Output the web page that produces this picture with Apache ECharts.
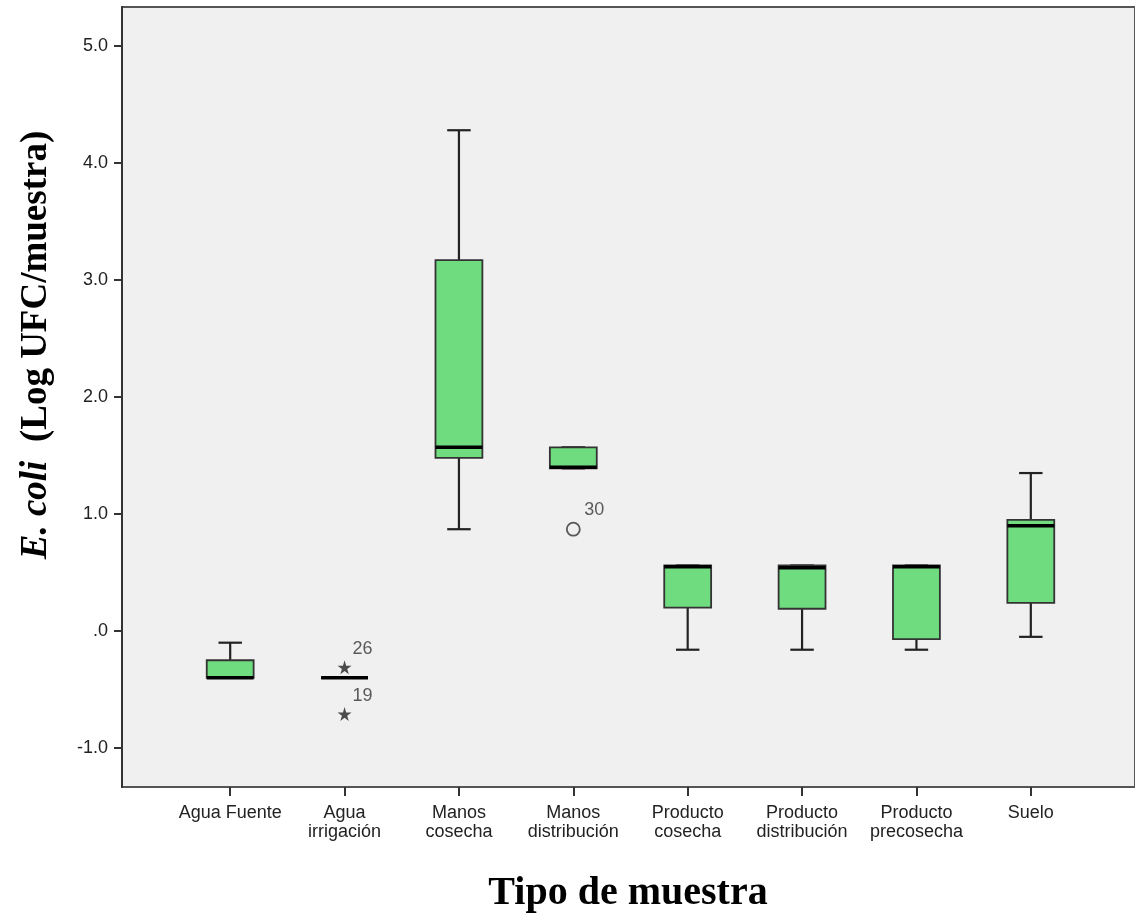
<!DOCTYPE html>
<html>
<head>
<meta charset="utf-8">
<script src="https://cdn.jsdelivr.net/npm/echarts@6/dist/echarts.min.js"></script>
<style>
html,body{margin:0;padding:0;background:#fff;}
#chart{width:1135px;height:923px;}
</style>
</head>
<body>
<div id="chart"></div>
<script>
var categories = ['Agua Fuente', 'Agua\nirrigación', 'Manos\ncosecha', 'Manos\ndistribución',
                  'Producto\ncosecha', 'Producto\ndistribución', 'Producto\nprecosecha', 'Suelo'];
var minVals = [-0.40, -0.40, 0.87, 1.39, -0.16, -0.16, -0.16, -0.05];
var q1Vals  = [-0.40, -0.40, 1.48, 1.39,  0.20,  0.19, -0.07,  0.24];
var medVals = [-0.40, -0.40, 1.57, 1.40,  0.55,  0.54,  0.55,  0.90];
var q3Vals  = [-0.25, -0.40, 3.17, 1.57,  0.56,  0.56,  0.56,  0.95];
var maxVals = [-0.10, -0.40, 4.28, 1.57,  0.56,  0.56,  0.56,  1.35];

var outlierCats   = [1, 1, 3];
var outlierVals   = [-0.31, -0.71, 0.87];
var outlierLabels = ['26', '19', '30'];
var outlierKinds  = ['star', 'star', 'circle'];

var yTicks = [-1, 0, 1, 2, 3, 4, 5];
var yMin = -4 / 3, yMax = 16 / 3;

var boxData = categories.map(function (c, i) {
  return [i, minVals[i], q1Vals[i], medVals[i], q3Vals[i], maxVals[i]];
});
var STAR = 'path://M50,0 L61,35 L98,35 L68,57 L79,91 L50,70 L21,91 L32,57 L2,35 L39,35 Z';
var outData = outlierCats.map(function (c, i) {
  var star = outlierKinds[i] === 'star';
  return {
    value: [c, outlierVals[i]],
    symbol: star ? STAR : 'circle',
    symbolSize: star ? 14 : 13,
    itemStyle: star ? {color: '#222', borderWidth: 0}
                    : {color: 'rgba(0,0,0,0)', borderColor: '#333', borderWidth: 1.8},
    label: {formatter: outlierLabels[i], offset: star ? [18, -18] : [21, -19]}
  };
});

var sans = '"Liberation Sans", Arial, sans-serif';
var serif = '"Liberation Serif", "Times New Roman", serif';

var chart = echarts.init(document.getElementById('chart'), null, {renderer: 'canvas'});
chart.setOption({
  animation: false,
  backgroundColor: '#ffffff',
  grid: [
    {left: 122, right: -5, top: 7, bottom: 136, show: true, backgroundColor: '#f0f0f0',
     borderColor: '#555', borderWidth: 2},
    {left: 173, right: 47, top: 7, bottom: 136}
  ],
  xAxis: [
    {gridIndex: 0, type: 'value', min: 0, max: 1, show: false},
    {gridIndex: 1, type: 'category', data: categories, boundaryGap: true,
     axisLine: {show: false, onZero: false},
     axisTick: {show: true, alignWithLabel: true, length: 9, lineStyle: {color: '#333', width: 2}},
     axisLabel: {interval: 0, margin: 17, color: '#222', fontFamily: sans, fontSize: 18, lineHeight: 19},
     splitLine: {show: false}}
  ],
  yAxis: [
    {gridIndex: 0, type: 'value', min: yMin, max: yMax,
     axisLine: {show: true, onZero: false, lineStyle: {color: '#333', width: 2}},
     axisTick: {show: true, length: 8, customValues: yTicks, lineStyle: {color: '#333', width: 2}},
     axisLabel: {customValues: yTicks, margin: 14, color: '#222', fontFamily: sans, fontSize: 18,
                 formatter: function (v) { return v === 0 ? '.0' : v.toFixed(1); }},
     splitLine: {show: false}},
    {gridIndex: 1, type: 'value', min: yMin, max: yMax, show: false}
  ],
  series: [
    {
      type: 'custom', xAxisIndex: 1, yAxisIndex: 1, data: boxData,
      encode: {x: 0, y: [1, 2, 3, 4, 5]},
      renderItem: function (params, api) {
        var x = api.value(0);
        var lo = api.coord([x, api.value(1)]);
        var q1 = api.coord([x, api.value(2)]);
        var md = api.coord([x, api.value(3)]);
        var q3 = api.coord([x, api.value(4)]);
        var hi = api.coord([x, api.value(5)]);
        var band = api.size([1, 0])[0];
        var bw = band * 0.41, cw = bw * 0.5, cx = md[0];
        var wl = {stroke: '#222', lineWidth: 2.2};
        return {type: 'group', children: [
          {type: 'line', shape: {x1: cx, y1: hi[1], x2: cx, y2: q3[1]}, style: wl},
          {type: 'line', shape: {x1: cx, y1: q1[1], x2: cx, y2: lo[1]}, style: wl},
          {type: 'line', shape: {x1: cx - cw / 2, y1: hi[1], x2: cx + cw / 2, y2: hi[1]}, style: wl},
          {type: 'line', shape: {x1: cx - cw / 2, y1: lo[1], x2: cx + cw / 2, y2: lo[1]}, style: wl},
          {type: 'rect', shape: {x: cx - bw / 2, y: q3[1], width: bw, height: q1[1] - q3[1]},
           style: {fill: '#6fdc80', stroke: '#333', lineWidth: 1.8}},
          {type: 'line', shape: {x1: cx - bw / 2, y1: md[1], x2: cx + bw / 2, y2: md[1]},
           style: {stroke: '#000', lineWidth: 3.5}}
        ]};
      }
    },
    {
      type: 'scatter', xAxisIndex: 1, yAxisIndex: 1, data: outData,
      label: {show: true, position: 'inside', color: '#333', fontFamily: sans, fontSize: 18}
    }
  ],
  graphic: [
    {type: 'text', x: 36, y: 345, rotation: Math.PI / 2,
     style: {text: '{it|E. coli}{b|  (Log UFC/muestra)}', textAlign: 'center', textVerticalAlign: 'middle',
             rich: {
               it: {fontFamily: serif, fontSize: 37, fontWeight: 'bold', fontStyle: 'italic', fill: '#000'},
               b: {fontFamily: serif, fontSize: 37, fontWeight: 'bold', fill: '#000'}
             }}},
    {type: 'text', x: 628, y: 894,
     style: {text: 'Tipo de muestra', fontFamily: serif, fontSize: 40, fontWeight: 'bold', fill: '#000',
             textAlign: 'center', textVerticalAlign: 'middle'}}
  ]
});
</script>
</body>
</html>
